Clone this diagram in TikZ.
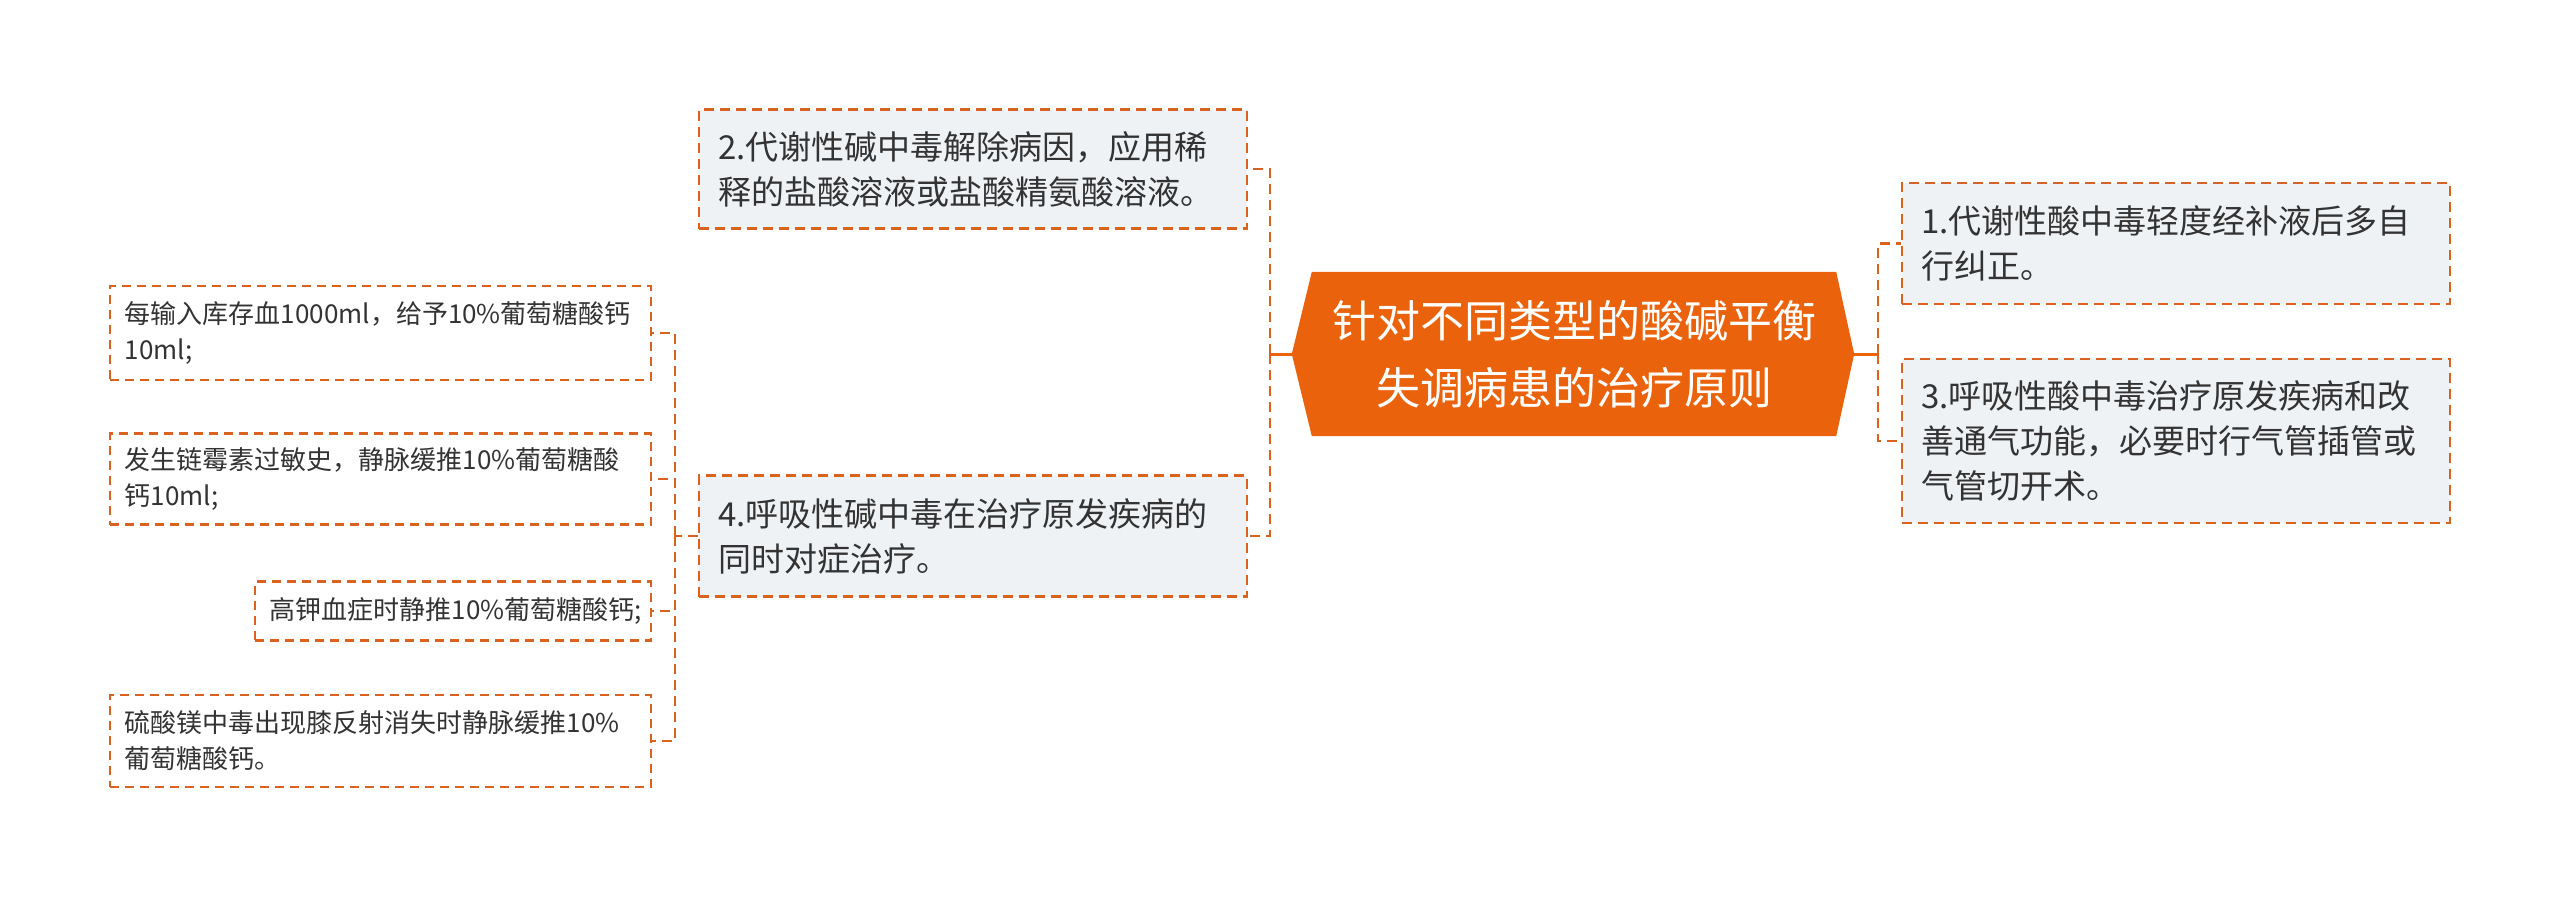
\documentclass[tikz,border=0pt]{standalone}
\usepackage{fontspec}
\setmainfont{Noto Sans CJK SC}
\usetikzlibrary{backgrounds}

\definecolor{rootorange}{RGB}{234,99,12}
\definecolor{dashorange}{RGB}{216,98,30}
\definecolor{boxgray}{RGB}{239,242,245}
\definecolor{txtgray}{RGB}{51,51,51}

\begin{document}
\begin{tikzpicture}[x=1pt, y=-1pt,
        topic/.style={draw=dashorange, line width=2.6pt, dash pattern=on 10pt off 6pt, fill=boxgray, text=txtgray, font=\fontsize{33}{45}\selectfont, text width=510pt, align=left, inner xsep=19pt, minimum height=#1},
        leaf/.style={draw=dashorange, line width=2.3pt, dash pattern=on 9pt off 6pt, fill=white, text=txtgray, font=\fontsize{26}{36}\selectfont, align=left, inner xsep=15pt, minimum height=#1, anchor=east},
        link/.style={draw=dashorange, line width=2.6pt, dash pattern=on 10pt off 6pt},
        stub/.style={draw=rootorange, line width=3pt}]
    \useasboundingbox (0,0) rectangle (2560,897);

    % centre topic
    \node[text=white, font=\fontsize{44}{67}\selectfont, align=center, minimum width=524pt, minimum height=164pt] (root) at (1574,354) {针对不同类型的酸碱平衡\\失调病患的治疗原则};
    \coordinate (rootL) at ([xshift=-20pt]root.west);
    \coordinate (rootR) at ([xshift=18pt]root.east);
    \begin{scope}[on background layer]
        \fill[rootorange] (root.north west) -- (root.north east) -- (rootR) -- (root.south east) -- (root.south west) -- (rootL) -- cycle;
    \end{scope}

    % main branches
    \node[topic=119pt] (alk2) at (973,169) {2.代谢性碱中毒解除病因，应用稀\\释的盐酸溶液或盐酸精氨酸溶液。};
    \node[topic=121pt] (alk4) at (973,536) {4.呼吸性碱中毒在治疗原发疾病的\\同时对症治疗。};
    \node[topic=121pt] (acid1) at (2176,243.5) {1.代谢性酸中毒轻度经补液后多自\\行纠正。};
    \node[topic=164pt] (acid3) at (2176,441) {3.呼吸性酸中毒治疗原发疾病和改\\善通气功能，必要时行气管插管或\\气管切开术。};

    % leaves of 4.
    \node[leaf=94pt, text width=511pt] (ca1) at (652,333) {每输入库存血1000ml，给予10\%葡萄糖酸钙\\10ml;};
    \node[leaf=91pt, text width=511pt] (ca2) at (652,479) {发生链霉素过敏史，静脉缓推10\%葡萄糖酸\\钙10ml;};
    \node[leaf=59pt, text width=366pt] (ca3) at (652,611) {高钾血症时静推10\%葡萄糖酸钙;};
    \node[leaf=92pt, text width=511pt] (ca4) at (652,741) {硫酸镁中毒出现膝反射消失时静脉缓推10\%\\葡萄糖酸钙。};

    \coordinate (jl) at (1270,354);
    \coordinate (jr) at (1878,354);
    \coordinate (jb) at (675,536);

    \draw[stub] (rootL) -- (jl);
    \draw[link] (jl) |- (alk2.east);
    \draw[link] (jl) |- (alk4.east);
    \draw[stub] (rootR) -- (jr);
    \draw[link] (jr) |- (acid1.west);
    \draw[link] (jr) |- (acid3.west);

    \draw[link] (alk4.west) -- (jb);
    \foreach \n in {ca1,ca2,ca3,ca4}
        \draw[link] (jb) |- (\n.east);
\end{tikzpicture}
\end{document}
